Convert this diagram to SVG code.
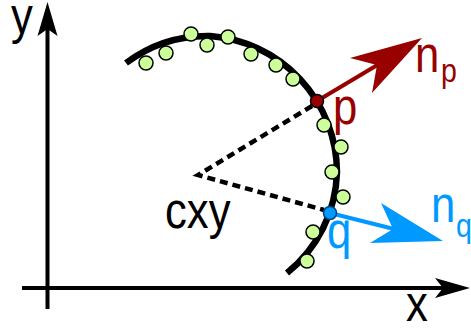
<svg xmlns="http://www.w3.org/2000/svg" width="471" height="331" viewBox="0 0 471 331">
<style>
.lbl{font-family:"Liberation Sans",Arial,sans-serif;font-size:52px}
.sub{font-family:"Liberation Sans",Arial,sans-serif;font-size:34px}
.dot{fill:#ccff99;stroke:#000;stroke-width:1.5}
.dash{fill:none;stroke:#000;stroke-width:4.5;stroke-dasharray:8,5}
</style>
<rect width="471" height="331" fill="#fff"/>
<g id="axes">
<line x1="47.5" y1="309" x2="47.5" y2="28" stroke="#000" stroke-width="4"/>
<polygon points="47.5,2 57.5,36 47.5,29 37.5,36" fill="#000"/>
<line x1="22" y1="288" x2="444" y2="288" stroke="#000" stroke-width="4"/>
<polygon points="470,288 435,278 443,288 435,298" fill="#000"/>
<text class="lbl" transform="translate(11,33) scale(0.84,1)">y</text>
<text class="lbl" transform="translate(406,321) scale(0.84,1)">x</text>
</g>
<g id="curve">
<path d="M126,63 A136,136 0 0 1 210,36 A137,137 0 0 1 337,172 A134,134 0 0 1 287,273" fill="none" stroke="#000" stroke-width="6.5"/>
</g>
<g id="samples">
<circle class="dot" cx="146" cy="63" r="7"/>
<circle class="dot" cx="166" cy="53" r="7"/>
<circle class="dot" cx="191" cy="34" r="7"/>
<circle class="dot" cx="207" cy="45" r="7"/>
<circle class="dot" cx="228" cy="37" r="7"/>
<circle class="dot" cx="251" cy="54" r="7"/>
<circle class="dot" cx="276" cy="65" r="7"/>
<circle class="dot" cx="293" cy="79" r="7"/>
<circle class="dot" cx="324" cy="125" r="7"/>
<circle class="dot" cx="341" cy="147" r="7"/>
<circle class="dot" cx="332" cy="172" r="7"/>
<circle class="dot" cx="343" cy="197" r="7"/>
<circle class="dot" cx="313" cy="232" r="7"/>
<circle class="dot" cx="307" cy="261" r="7"/>
</g>
<g id="connectors">
<path class="dash" d="M312,106 L198,175 L324,210"/>
<line x1="317" y1="101" x2="379" y2="64" stroke="#990000" stroke-width="4"/>
<polygon points="422,38 372,93 377,65 350,58" fill="#990000"/>
<line x1="330" y1="213" x2="394" y2="229" stroke="#0099ff" stroke-width="4"/>
<polygon points="443,241 381,203 393,229 370,243" fill="#0099ff"/>
</g>
<g id="center">
<text class="lbl" transform="translate(165,228) scale(0.84,1)">cxy</text>
</g>
<g id="p">
<circle cx="317" cy="101" r="6.5" fill="#990000" stroke="#000" stroke-width="1.5"/>
<text class="lbl" fill="#990000" transform="translate(333,124) scale(0.84,1)">p</text>
<text class="lbl" fill="#990000" transform="translate(415,72) scale(0.84,1)">n</text>
<text class="sub" fill="#990000" transform="translate(441,82) scale(0.84,1)">p</text>
</g>
<g id="q">
<circle cx="330" cy="213" r="6.5" fill="#0099ff" stroke="#004477" stroke-width="1.5"/>
<text class="lbl" fill="#0099ff" transform="translate(327,248) scale(0.84,1)">q</text>
<text class="lbl" fill="#0099ff" transform="translate(431,222) scale(0.84,1)">n</text>
<text class="sub" fill="#0099ff" transform="translate(456,237) scale(0.84,1)">q</text>
</g>
</svg>
